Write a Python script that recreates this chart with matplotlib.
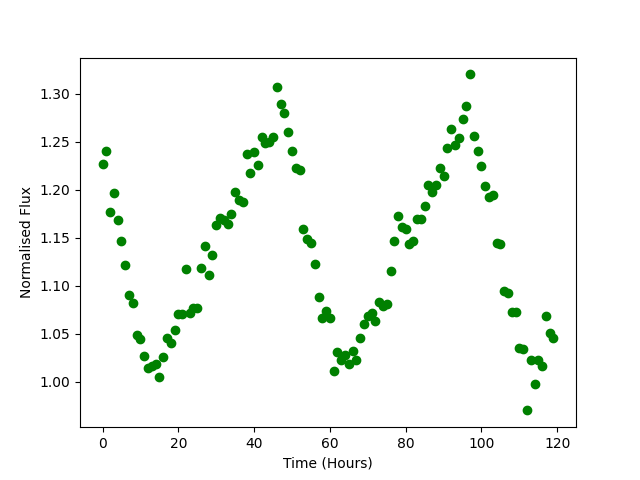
## light curve - normalised flux over time
import matplotlib
matplotlib.use('Agg')
import matplotlib.pyplot as plt
import numpy as np

## data
time_hours = np.arange(0, 120)

flux = [1.227, 1.240, 1.177, 1.196, 1.168, 1.146, 1.121, 1.090, 1.082, 1.049,
        1.044, 1.027, 1.014, 1.016, 1.018, 1.005, 1.026, 1.045, 1.040, 1.054,
        1.070, 1.070, 1.117, 1.071, 1.077, 1.077, 1.118, 1.141, 1.111, 1.132,
        1.163, 1.170, 1.168, 1.164, 1.175, 1.197, 1.189, 1.187, 1.237, 1.217,
        1.239, 1.226, 1.255, 1.249, 1.250, 1.255, 1.307, 1.289, 1.280, 1.260,
        1.240, 1.223, 1.220, 1.159, 1.149, 1.144, 1.123, 1.088, 1.066, 1.074,
        1.066, 1.011, 1.031, 1.023, 1.028, 1.018, 1.032, 1.023, 1.045, 1.060,
        1.068, 1.071, 1.063, 1.083, 1.079, 1.081, 1.115, 1.146, 1.173, 1.161,
        1.159, 1.143, 1.146, 1.169, 1.169, 1.183, 1.205, 1.197, 1.205, 1.223,
        1.214, 1.243, 1.263, 1.246, 1.254, 1.274, 1.287, 1.320, 1.256, 1.240,
        1.225, 1.204, 1.192, 1.194, 1.144, 1.143, 1.094, 1.092, 1.073, 1.073,
        1.035, 1.034, 0.970, 1.022, 0.998, 1.022, 1.016, 1.068, 1.051, 1.045]

## plot
plt.figure(figsize=(6.4, 4.8), dpi=100)
plt.plot(time_hours, flux, 'go')
plt.xlabel('Time (Hours)')
plt.ylabel('Normalised Flux')
plt.savefig('out.png')
